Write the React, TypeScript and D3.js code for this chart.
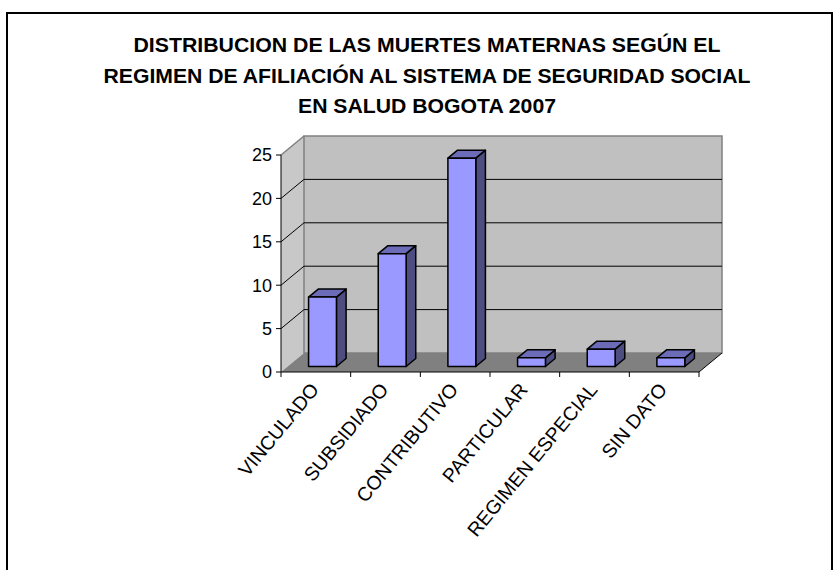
import React from "react";
import * as d3 from "d3";

const titleLines = [
  "DISTRIBUCION DE LAS MUERTES MATERNAS SEGÚN EL",
  "REGIMEN DE AFILIACIÓN AL SISTEMA DE SEGURIDAD SOCIAL",
  "EN SALUD BOGOTA 2007",
];
const categories = ["VINCULADO", "SUBSIDIADO", "CONTRIBUTIVO", "PARTICULAR", "REGIMEN ESPECIAL", "SIN DATO"];
const values = [8, 13, 24, 1, 2, 1];
const yTicks = [0, 5, 10, 15, 20, 25];

const W = 834;
const H = 570;
const DX = 23;
const DY = -19;
const F0 = 0.29;
const F1 = 0.71;

export default function App() {
  const y = d3.scaleLinear().domain([0, 25]).range([372, 155]);
  const x = d3.scaleBand<string>().domain(categories).range([281, 699]);
  const bw = x.bandwidth();
  const barW = bw * 0.4;
  const x0 = x.range()[0];
  const x1 = x.range()[1];
  const yb = y(0);
  const yt = y(25);
  const pts = (p: number[][]) => p.map((q) => q.join(",")).join(" ");
  const font = "'Liberation Sans', Arial, sans-serif";
  const titleLens = [587, 647, 258];
  const titleBase = [52, 83, 113];

  return (
    <svg width={W} height={H} style={{ position: "absolute", left: 0, top: 0, background: "#fff" }} fontFamily={font}>
      <defs>
        <clipPath id="lblclip">
          <rect x={0} y={386} width={W} height={H} />
        </clipPath>
      </defs>
      <rect x={7} y={13} width={825} height={620} fill="#fff" stroke="#000" strokeWidth={2} />
      {titleLines.map((t, i) => (
        <text key={i} x={427} y={titleBase[i]} textAnchor="middle" fontWeight="bold" fontSize={20.5}
          textLength={titleLens[i]} lengthAdjust="spacingAndGlyphs">{t}</text>
      ))}
      {/* side wall */}
      <polygon points={pts([[x0, yb], [x0, yt], [x0 + DX, yt + DY], [x0 + DX, yb + DY]])} fill="#C8C8C8" stroke="none" />
      {/* back wall */}
      <polygon points={pts([[x0 + DX, yb + DY], [x0 + DX, yt + DY], [x1 + DX, yt + DY], [x1 + DX, yb + DY]])} fill="#C0C0C0" stroke="#808080" strokeWidth={1.5} />
      {/* floor */}
      <polygon points={pts([[x0, yb], [x1, yb], [x1 + DX, yb + DY], [x0 + DX, yb + DY]])} fill="#808080" stroke="none" />
      <line x1={x1} y1={yb} x2={x1 + DX} y2={yb + DY} stroke="#000" strokeWidth={1} />
      {/* gridlines */}
      {yTicks.filter((v) => v > 0 && v < 25).map((v) => (
        <g key={v}>
          <line x1={x0} y1={y(v)} x2={x0 + DX} y2={y(v) + DY} stroke="#000" strokeWidth={1} />
          <line x1={x0 + DX} y1={y(v) + DY} x2={x1 + DX} y2={y(v) + DY} stroke="#000" strokeWidth={1} />
        </g>
      ))}
      <line x1={x0} y1={yt} x2={x0 + DX} y2={yt + DY} stroke="#808080" strokeWidth={1.5} />
      {/* bars */}
      {categories.map((c, i) => {
        const v = values[i];
        const bx = (x(c) as number) + (bw - barW) / 2 + F0 * DX;
        const bot = y(0) + F0 * DY;
        const top = y(v) + F0 * DY;
        const ddx = (F1 - F0) * DX;
        const ddy = (F1 - F0) * DY;
        return (
          <g key={c} stroke="#000" strokeWidth={1.5} strokeLinejoin="round">
            <polygon points={pts([[bx + barW, top], [bx + barW + ddx, top + ddy], [bx + barW + ddx, bot + ddy], [bx + barW, bot]])} fill="#4D4D80" />
            <polygon points={pts([[bx, top], [bx + barW, top], [bx + barW + ddx, top + ddy], [bx + ddx, top + ddy]])} fill="#6B6BB8" />
            <rect x={bx} y={top} width={barW} height={bot - top} fill="#9999FF" />
          </g>
        );
      })}
      {/* axes */}
      <line x1={x0} y1={yt} x2={x0} y2={yb} stroke="#000" strokeWidth={1} />
      <line x1={x0} y1={yb} x2={x1} y2={yb} stroke="#000" strokeWidth={1} />
      {yTicks.map((v) => (
        <g key={v}>
          <line x1={x0 - 5} y1={y(v)} x2={x0} y2={y(v)} stroke="#000" strokeWidth={1} />
          <text x={x0 - 9} y={y(v)} dy="0.36em" textAnchor="end" fontSize={18}>{v}</text>
        </g>
      ))}
      {[...categories.map((c) => x(c) as number), x1].map((t, i) => (
        <line key={i} x1={t} y1={yb} x2={t} y2={yb + 5} stroke="#000" strokeWidth={1} />
      ))}
      {categories.map((c) => {
        const cx = (x(c) as number) + bw / 2 + 4;
        const cy = 390;
        return (
          <g key={c} clipPath={c === "REGIMEN ESPECIAL" ? "url(#lblclip)" : undefined}>
            <text x={cx} y={cy} textAnchor="end" fontSize={19.5}
              transform={`rotate(-50.5 ${cx} ${cy})`}>{c}</text>
          </g>
        );
      })}
    </svg>
  );
}
